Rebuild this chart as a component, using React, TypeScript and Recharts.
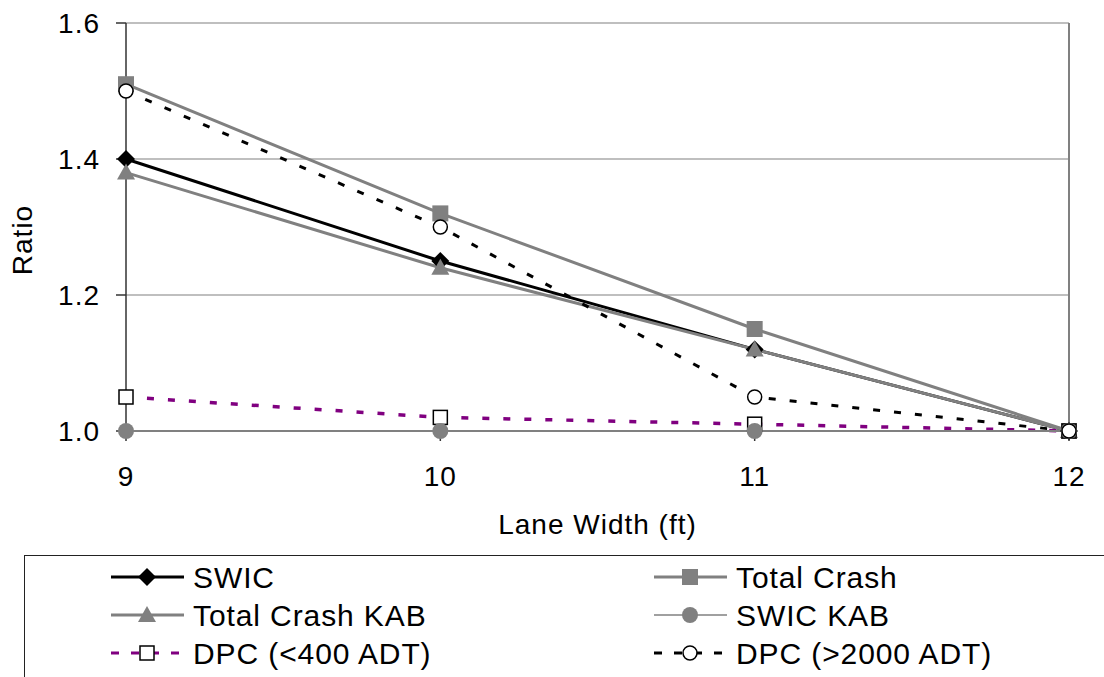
import React from "react";
import { CartesianGrid, Line, LineChart, ReferenceLine, XAxis, YAxis } from "recharts";

const laneWidths = [9, 10, 11, 12];
const swic = [1.4, 1.25, 1.12, 1.0];
const totalCrash = [1.51, 1.32, 1.15, 1.0];
const totalCrashKab = [1.38, 1.24, 1.12, 1.0];
const swicKab = [1.0, 1.0, 1.0, 1.0];
const dpcLow = [1.05, 1.02, 1.01, 1.0];
const dpcHigh = [1.5, 1.3, 1.05, 1.0];
const yTicks = [1.0, 1.2, 1.4, 1.6];

const data = laneWidths.map((w, i) => ({
  w,
  swic: swic[i],
  totalCrash: totalCrash[i],
  totalCrashKab: totalCrashKab[i],
  swicKab: swicKab[i],
  dpcLow: dpcLow[i],
  dpcHigh: dpcHigh[i],
}));

const GRAY = "#808080";
const PURPLE = "#800080";
const FONT = "Liberation Sans, Arial, sans-serif";

type Shape = "diamond" | "square" | "triangle" | "circle" | "openSquare" | "openCircle";

function Marker({ shape, cx, cy }: { shape: Shape; cx: number; cy: number }) {
  switch (shape) {
    case "diamond":
      return <path d={`M${cx},${cy - 9}L${cx + 9},${cy}L${cx},${cy + 9}L${cx - 9},${cy}Z`} fill="#000" />;
    case "square":
      return <rect x={cx - 8} y={cy - 8} width={16} height={16} fill={GRAY} />;
    case "triangle":
      return <path d={`M${cx},${cy - 9}L${cx + 9},${cy + 7}L${cx - 9},${cy + 7}Z`} fill={GRAY} />;
    case "circle":
      return <circle cx={cx} cy={cy} r={8} fill={GRAY} />;
    case "openSquare":
      return <rect x={cx - 7} y={cy - 7} width={14} height={14} fill="#fff" stroke="#000" strokeWidth={1.5} />;
    case "openCircle":
      return <circle cx={cx} cy={cy} r={7} fill="#fff" stroke="#000" strokeWidth={1.5} />;
  }
}

const dotFor = (shape: Shape) => (props: any) => (
  <Marker key={`${shape}-${props.index}`} shape={shape} cx={props.cx} cy={props.cy} />
);

const legendItems: Array<{ name: string; color: string; width: number; dash?: string; shape: Shape }> = [
  { name: "SWIC", color: "#000", width: 3, shape: "diamond" },
  { name: "Total Crash", color: GRAY, width: 3, shape: "square" },
  { name: "Total Crash KAB", color: GRAY, width: 3, shape: "triangle" },
  { name: "SWIC KAB", color: GRAY, width: 1.5, shape: "circle" },
  { name: "DPC (<400 ADT)", color: PURPLE, width: 3, dash: "8 12", shape: "openSquare" },
  { name: "DPC (>2000 ADT)", color: "#000", width: 3, dash: "8 12", shape: "openCircle" },
];

function LegendBox() {
  return (
    <div
      style={{
        position: "absolute",
        left: 24,
        top: 555,
        width: 1100,
        height: 140,
        borderTop: "1.5px solid #222",
        borderLeft: "1.5px solid #222",
        boxSizing: "border-box",
      }}
    >
      <svg width={1080} height={120} style={{ position: "absolute", left: 0, top: 0 }}>
        {legendItems.map((it, i) => {
          const col = i % 2;
          const row = Math.floor(i / 2);
          const x0 = col === 0 ? 86 : 629;
          const y = 21 + row * 38;
          return (
            <g key={it.name}>
              <line x1={x0} x2={x0 + 73} y1={y} y2={y} stroke={it.color} strokeWidth={it.width} strokeDasharray={it.dash} />
              <Marker shape={it.shape} cx={x0 + 36} cy={y} />
              <text x={x0 + 82} y={y + 11} fontSize={30} fontFamily={FONT} letterSpacing={0.9} fill="#000">
                {it.name}
              </text>
            </g>
          );
        })}
      </svg>
    </div>
  );
}

export default function App() {
  return (
    <div style={{ position: "absolute", left: 0, top: 0, width: 1104, height: 677, background: "#fff", overflow: "hidden" }}>
      <LineChart width={1104} height={545} data={data} margin={{ top: 23, right: 35, left: 0, bottom: 4 }}>
        <CartesianGrid vertical={false} stroke={GRAY} strokeWidth={1.2} />
        <ReferenceLine x={12} stroke={GRAY} strokeWidth={2} />
        <XAxis
          dataKey="w"
          type="number"
          domain={[9, 12]}
          ticks={laneWidths}
          height={110}
          tickSize={10}
          tickMargin={25}
          axisLine={{ stroke: GRAY, strokeWidth: 2 }}
          tickLine={{ stroke: "#333", strokeWidth: 1.5 }}
          tick={{ fill: "#000", fontSize: 28, fontFamily: FONT, letterSpacing: 1 }}
          label={{ value: "Lane Width (ft)", position: "insideBottom", offset: 7, fill: "#000", fontSize: 28, fontFamily: FONT, letterSpacing: 1 }}
        />
        <YAxis
          type="number"
          domain={[1.0, 1.6]}
          ticks={yTicks}
          width={126}
          tickSize={10}
          tickMargin={16}
          tickFormatter={(v: number) => v.toFixed(1)}
          axisLine={{ stroke: "#333", strokeWidth: 1.5 }}
          tickLine={{ stroke: "#333", strokeWidth: 1.5 }}
          tick={{ fill: "#000", fontSize: 28, fontFamily: FONT, letterSpacing: 1 }}
          label={{
            content: () => (
              <text transform="translate(32,240) rotate(-90)" textAnchor="middle" fontSize={28} fontFamily={FONT} letterSpacing={1} fill="#000">
                Ratio
              </text>
            ),
          }}
        />
        <Line dataKey="swic" stroke="#000" strokeWidth={3} dot={dotFor("diamond")} activeDot={false} isAnimationActive={false} />
        <Line dataKey="totalCrash" stroke={GRAY} strokeWidth={3} dot={dotFor("square")} activeDot={false} isAnimationActive={false} />
        <Line dataKey="totalCrashKab" stroke={GRAY} strokeWidth={3} dot={dotFor("triangle")} activeDot={false} isAnimationActive={false} />
        <Line dataKey="dpcLow" stroke={PURPLE} strokeWidth={3.5} strokeDasharray="7 14" dot={dotFor("openSquare")} activeDot={false} isAnimationActive={false} />
        <Line dataKey="swicKab" stroke={GRAY} strokeWidth={1.5} dot={dotFor("circle")} activeDot={false} isAnimationActive={false} />
        <Line dataKey="dpcHigh" stroke="#000" strokeWidth={3} strokeDasharray="7 14" dot={dotFor("openCircle")} activeDot={false} isAnimationActive={false} />
      </LineChart>
      <LegendBox />
    </div>
  );
}
